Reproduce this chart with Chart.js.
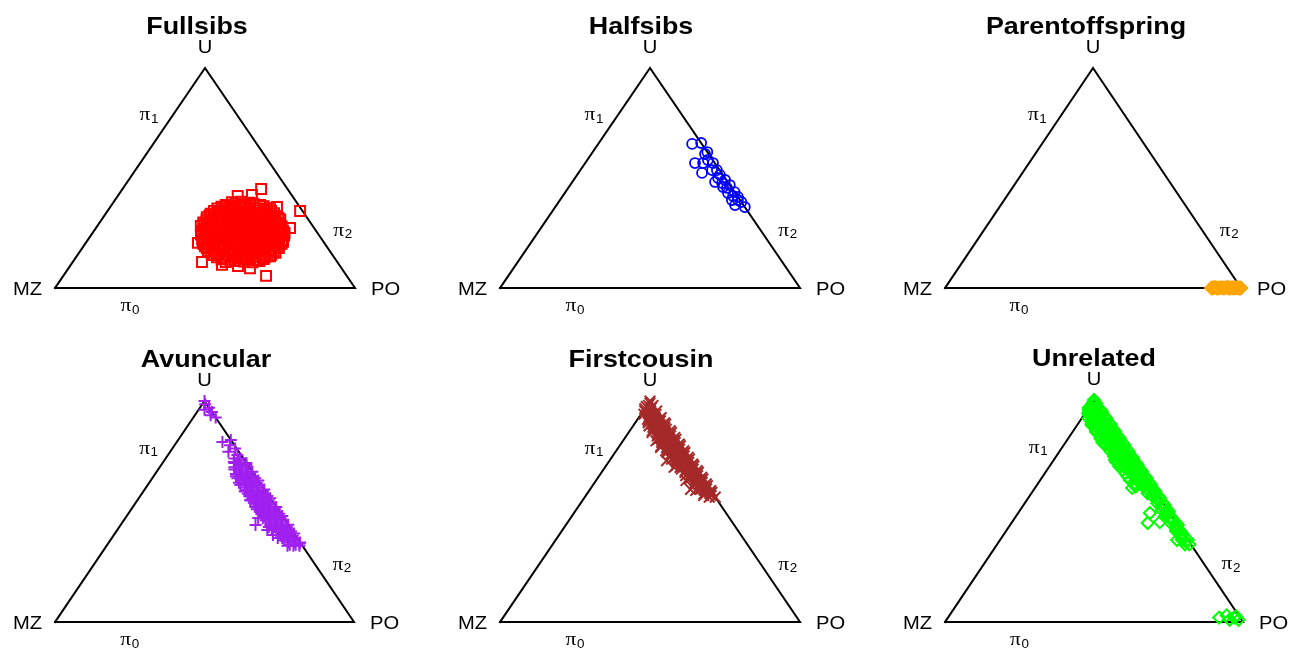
<!DOCTYPE html>
<html>
<head>
<meta charset="utf-8">
<script src="https://cdn.jsdelivr.net/npm/chart.js@4/dist/chart.umd.min.js"></script>
<style>
  html, body { margin:0; padding:0; background:#fff; }
  body { width:1291px; height:648px; overflow:hidden; position:relative; }
  canvas { position:absolute; }
</style>
</head>
<body>
<script>
// ---------- DATA (ternary compositions: [pi0, pi1]; pi2 = 1 - pi0 - pi1) ----------
const panelTitles = ['Fullsibs', 'Halfsibs', 'Parentoffspring', 'Avuncular', 'Firstcousin', 'Unrelated'];
const vertexLabels = ['MZ', 'PO', 'U'];
const vertexPi0 = [0, 0, 1];
const vertexPi1 = [0, 1, 0];
const edgeSubscripts = ['0', '1', '2'];

const fullsibs = [
  [0.118,0.51],[0.122,0.54],[0.12,0.57],[0.117,0.60],[0.123,0.62],
  [0.13,0.49],[0.128,0.52],[0.133,0.545],[0.13,0.575],[0.127,0.605],[0.132,0.63],
  [0.14,0.47],[0.137,0.495],[0.143,0.52],[0.14,0.55],[0.136,0.575],[0.142,0.60],[0.139,0.63],[0.144,0.645],
  [0.15,0.455],[0.148,0.48],[0.153,0.51],[0.15,0.535],[0.147,0.565],[0.152,0.59],[0.149,0.62],[0.151,0.645],
  [0.161,0.44],[0.157,0.465],[0.163,0.495],[0.16,0.52],[0.156,0.55],[0.162,0.575],[0.158,0.605],[0.164,0.63],[0.16,0.655],
  [0.17,0.425],[0.168,0.45],[0.173,0.48],[0.17,0.505],[0.167,0.535],[0.172,0.56],[0.169,0.59],[0.171,0.615],[0.168,0.645],
  [0.182,0.415],[0.178,0.44],[0.183,0.47],[0.177,0.495],[0.181,0.525],[0.184,0.55],[0.179,0.58],[0.18,0.605],[0.176,0.63],[0.182,0.655],
  [0.19,0.405],[0.188,0.43],[0.193,0.46],[0.19,0.485],[0.187,0.515],[0.192,0.54],[0.189,0.565],[0.191,0.595],[0.188,0.62],[0.192,0.65],
  [0.2,0.395],[0.204,0.42],[0.197,0.45],[0.201,0.475],[0.205,0.5],[0.198,0.53],[0.202,0.555],[0.196,0.585],[0.203,0.61],[0.199,0.635],[0.201,0.655],
  [0.21,0.387],[0.208,0.415],[0.213,0.44],[0.21,0.47],[0.207,0.495],[0.212,0.523],[0.209,0.55],[0.211,0.575],[0.208,0.605],[0.212,0.63],[0.21,0.655],
  [0.221,0.38],[0.217,0.405],[0.224,0.435],[0.219,0.46],[0.222,0.49],[0.216,0.515],[0.223,0.54],[0.218,0.57],[0.22,0.595],[0.225,0.62],[0.218,0.65],
  [0.23,0.385],[0.228,0.415],[0.233,0.44],[0.23,0.47],[0.227,0.495],[0.232,0.525],[0.229,0.55],[0.231,0.575],[0.228,0.605],[0.232,0.63],
  [0.243,0.365],[0.238,0.39],[0.241,0.42],[0.236,0.445],[0.244,0.475],[0.239,0.5],[0.242,0.525],[0.237,0.555],[0.245,0.58],[0.24,0.61],[0.238,0.645],
  [0.25,0.372],[0.248,0.40],[0.253,0.425],[0.25,0.455],[0.247,0.482],[0.252,0.51],[0.249,0.535],[0.251,0.563],[0.248,0.59],[0.252,0.617],[0.25,0.64],
  [0.258,0.36],[0.263,0.385],[0.257,0.415],[0.262,0.44],[0.259,0.47],[0.264,0.495],[0.256,0.525],[0.261,0.55],[0.258,0.58],[0.263,0.605],[0.26,0.63],
  [0.27,0.365],[0.268,0.392],[0.273,0.42],[0.27,0.447],[0.267,0.475],[0.272,0.502],[0.269,0.53],[0.271,0.555],[0.268,0.583],[0.272,0.61],
  [0.282,0.345],[0.277,0.37],[0.283,0.4],[0.278,0.425],[0.281,0.455],[0.284,0.48],[0.276,0.51],[0.28,0.535],[0.283,0.56],[0.279,0.59],[0.281,0.615],
  [0.29,0.352],[0.288,0.38],[0.293,0.407],[0.29,0.435],[0.287,0.462],[0.292,0.49],[0.289,0.515],[0.291,0.543],[0.288,0.57],[0.292,0.60],
  [0.298,0.345],[0.303,0.37],[0.297,0.4],[0.302,0.425],[0.299,0.455],[0.304,0.48],[0.296,0.505],[0.301,0.535],[0.303,0.56],[0.298,0.59],
  [0.31,0.35],[0.308,0.377],[0.313,0.405],[0.31,0.432],[0.307,0.46],[0.312,0.487],[0.309,0.515],[0.311,0.542],[0.308,0.57],[0.312,0.595],
  [0.322,0.345],[0.317,0.37],[0.321,0.4],[0.324,0.43],[0.318,0.455],[0.32,0.48],[0.323,0.51],[0.316,0.535],[0.321,0.56],[0.319,0.585],
  [0.33,0.35],[0.328,0.377],[0.333,0.405],[0.33,0.432],[0.327,0.46],[0.332,0.487],[0.329,0.515],[0.331,0.542],[0.328,0.57],
  [0.338,0.35],[0.343,0.375],[0.337,0.405],[0.341,0.43],[0.344,0.46],[0.339,0.485],[0.342,0.515],[0.336,0.54],[0.34,0.56],
  [0.35,0.355],[0.348,0.382],[0.353,0.41],[0.35,0.437],[0.347,0.465],[0.352,0.492],[0.349,0.52],[0.351,0.545],
  [0.362,0.36],[0.357,0.385],[0.361,0.415],[0.364,0.44],[0.358,0.47],[0.362,0.495],[0.359,0.52],[0.363,0.535],
  [0.37,0.37],[0.368,0.397],[0.373,0.425],[0.37,0.452],[0.367,0.48],[0.372,0.51],
  [0.378,0.38],[0.383,0.41],[0.379,0.44],[0.382,0.47],[0.377,0.495],
  [0.39,0.395],[0.392,0.425],[0.388,0.455],
  [0.055,0.676],[0.35,0.642],[0.45,0.462],[0.368,0.556],[0.118,0.431],[0.105,0.504],
  [0.205,0.374],[0.09,0.605],[0.273,0.647],[0.418,0.40],[0.423,0.445],[0.10,0.56]
];

const halfsibs = [
  [0.655,0.313],[0.659,0.341],[0.609,0.379],[0.618,0.382],[0.568,0.366],[0.568,0.393],[0.523,0.412],
  [0.568,0.426],[0.536,0.455],[0.514,0.476],[0.482,0.476],[0.491,0.505],[0.459,0.514],[0.468,0.532],
  [0.432,0.544],[0.40,0.573],[0.436,0.564],[0.391,0.609],[0.368,0.632],[0.582,0.402],[0.536,0.439],
  [0.50,0.477],[0.477,0.502],[0.455,0.529],[0.418,0.568],[0.40,0.593],[0.377,0.595],[0.414,0.586]
];

const parentoffspring = [
  [0,0.90],[0,0.905],[0.003,0.91],[0,0.918],[0,0.925],[0.002,0.932],[0,0.94],[0,0.946],[0.004,0.952],
  [0,0.958],[0,0.963],[0.002,0.969],[0,0.975],[0,0.98],[0.003,0.985],[0,0.99],[0,0.995],[0,1.0]
];

const avuncular = [
  [1,0],[0.985,0.01],[0.97,0.03],[0.96,0.02],[0.95,0.05],[0.935,0.053],[0.925,0.075],
  [0.814,0.153],[0.824,0.176],[0.77,0.195],[0.756,0.232],[0.80,0.185],[0.785,0.21],[0.724,0.236],
  [0.74,0.25],[0.74,0.23],[0.73,0.25],
  [0.72,0.28],[0.72,0.26],[0.72,0.24],[0.71,0.285],[0.71,0.265],
  [0.70,0.29],[0.70,0.27],[0.70,0.25],[0.69,0.295],[0.69,0.275],[0.69,0.255],
  [0.68,0.32],[0.68,0.30],[0.68,0.275],[0.67,0.31],[0.67,0.29],[0.67,0.27],
  [0.66,0.33],[0.66,0.31],[0.66,0.29],[0.66,0.275],[0.65,0.345],[0.65,0.325],[0.65,0.305],[0.65,0.285],
  [0.64,0.36],[0.64,0.34],[0.64,0.32],[0.63,0.36],[0.63,0.34],[0.63,0.32],[0.63,0.30],
  [0.62,0.37],[0.62,0.35],[0.62,0.33],[0.62,0.31],[0.61,0.375],[0.61,0.355],[0.61,0.335],
  [0.60,0.40],[0.60,0.38],[0.60,0.36],[0.60,0.34],[0.59,0.40],[0.59,0.38],[0.59,0.36],[0.59,0.34],
  [0.58,0.41],[0.58,0.39],[0.58,0.37],[0.58,0.355],[0.57,0.425],[0.57,0.405],[0.57,0.385],[0.57,0.365],
  [0.56,0.44],[0.56,0.42],[0.56,0.40],[0.56,0.38],[0.55,0.44],[0.55,0.42],[0.55,0.40],[0.55,0.38],
  [0.54,0.45],[0.54,0.43],[0.54,0.41],[0.54,0.395],[0.53,0.455],[0.53,0.435],[0.53,0.415],
  [0.52,0.48],[0.52,0.46],[0.52,0.44],[0.52,0.42],[0.51,0.48],[0.51,0.46],[0.51,0.44],[0.51,0.42],
  [0.50,0.49],[0.50,0.47],[0.50,0.45],[0.50,0.435],[0.49,0.505],[0.49,0.485],[0.49,0.465],[0.49,0.445],
  [0.48,0.52],[0.48,0.50],[0.48,0.48],[0.48,0.46],[0.47,0.52],[0.47,0.50],[0.47,0.48],[0.47,0.46],
  [0.46,0.53],[0.46,0.51],[0.46,0.49],[0.46,0.475],[0.45,0.535],[0.45,0.515],[0.45,0.495],
  [0.44,0.56],[0.44,0.54],[0.44,0.52],[0.44,0.50],[0.43,0.56],[0.43,0.54],[0.43,0.52],[0.43,0.50],
  [0.42,0.57],[0.42,0.55],[0.42,0.53],[0.42,0.515],[0.41,0.585],[0.41,0.565],[0.41,0.545],
  [0.40,0.60],[0.40,0.58],[0.40,0.56],[0.39,0.60],[0.39,0.58],[0.39,0.56],
  [0.38,0.61],[0.38,0.59],[0.38,0.57],[0.38,0.555],[0.37,0.615],[0.37,0.595],[0.37,0.58],
  [0.36,0.64],[0.36,0.62],[0.36,0.60],[0.355,0.64],[0.35,0.63],[0.35,0.61],
  [0.345,0.645],[0.345,0.625],[0.345,0.605],
  [0.439,0.451],[0.416,0.502],[0.394,0.532],[0.471,0.444],[0.552,0.377],[0.597,0.345],[0.52,0.41]
];

const firstcousin = [
  [1,0],[0.99,0.005],[0.98,0.02],[0.98,0.005],[0.97,0.02],[0.965,0],[0.975,0],
  [0.955,0.045],[0.955,0.025],[0.955,0.005],[0.94,0.05],[0.94,0.03],[0.94,0.01],
  [0.925,0.075],[0.925,0.055],[0.925,0.035],[0.917,0.073],[0.917,0.053],[0.917,0.033],
  [0.91,0.08],[0.91,0.06],[0.91,0.04],[0.902,0.098],[0.902,0.068],[0.902,0.043],
  [0.895,0.105],[0.895,0.085],[0.895,0.065],[0.887,0.098],[0.887,0.078],[0.887,0.053],
  [0.88,0.11],[0.88,0.09],[0.88,0.07],[0.872,0.118],[0.872,0.098],[0.872,0.078],
  [0.865,0.135],[0.865,0.115],[0.865,0.095],[0.865,0.075],[0.857,0.143],[0.857,0.123],[0.857,0.103],[0.857,0.078],
  [0.85,0.14],[0.85,0.12],[0.85,0.10],[0.842,0.148],[0.842,0.128],[0.842,0.103],
  [0.835,0.165],[0.835,0.145],[0.835,0.125],[0.827,0.173],[0.827,0.153],[0.827,0.133],[0.827,0.113],
  [0.82,0.17],[0.82,0.15],[0.82,0.13],[0.82,0.11],[0.812,0.178],[0.812,0.158],[0.812,0.133],
  [0.805,0.195],[0.805,0.175],[0.805,0.155],[0.797,0.203],[0.797,0.183],[0.797,0.163],[0.797,0.138],
  [0.79,0.20],[0.79,0.18],[0.79,0.16],[0.782,0.208],[0.782,0.188],[0.782,0.168],
  [0.775,0.225],[0.775,0.205],[0.775,0.185],[0.775,0.165],[0.767,0.233],[0.767,0.213],[0.767,0.193],[0.767,0.173],
  [0.76,0.23],[0.76,0.21],[0.76,0.19],[0.752,0.238],[0.752,0.218],[0.752,0.193],
  [0.745,0.255],[0.745,0.235],[0.745,0.215],[0.737,0.263],[0.737,0.243],[0.737,0.223],[0.737,0.203],
  [0.73,0.26],[0.73,0.24],[0.73,0.22],[0.722,0.268],[0.722,0.248],[0.722,0.228],
  [0.715,0.285],[0.715,0.265],[0.715,0.245],[0.707,0.293],[0.707,0.273],[0.707,0.253],[0.707,0.233],
  [0.70,0.29],[0.70,0.27],[0.70,0.25],[0.692,0.298],[0.692,0.278],[0.692,0.258],
  [0.685,0.315],[0.685,0.295],[0.685,0.275],[0.677,0.323],[0.677,0.303],[0.677,0.278],
  [0.67,0.32],[0.67,0.30],[0.662,0.328],[0.662,0.308],[0.662,0.288],
  [0.655,0.345],[0.655,0.325],[0.655,0.305],[0.647,0.353],[0.647,0.333],[0.647,0.308],
  [0.64,0.35],[0.64,0.33],[0.632,0.358],[0.632,0.338],
  [0.625,0.375],[0.625,0.355],[0.625,0.335],[0.617,0.383],[0.617,0.363],[0.617,0.338],
  [0.61,0.38],[0.61,0.36],[0.602,0.388],[0.602,0.368],
  [0.595,0.405],[0.595,0.385],[0.595,0.355],[0.587,0.413],[0.587,0.393],
  [0.58,0.41],[0.58,0.39],[0.572,0.418],[0.572,0.393],
  [0.565,0.435],[0.565,0.415],
  [0.73,0.19],[0.70,0.23],[0.64,0.30],[0.60,0.335],[0.79,0.14]
];

const unrelated = [
  [1,0],[0.992,0.004],[0.985,0.015],[0.985,0.003],[0.978,0.012],[0.965,0],[0.97,0.025],[0.97,0.005],
  [0.962,0.023],[0.962,0.003],
  [0.955,0.045],[0.955,0.025],[0.955,0.005],[0.947,0.053],[0.947,0.033],[0.947,0.013],
  [0.94,0.05],[0.94,0.03],[0.94,0.01],[0.932,0.058],[0.932,0.038],[0.932,0.018],
  [0.925,0.075],[0.925,0.055],[0.925,0.035],[0.917,0.083],[0.917,0.063],[0.917,0.043],[0.917,0.023],
  [0.91,0.08],[0.91,0.06],[0.91,0.04],[0.902,0.088],[0.902,0.068],[0.902,0.048],
  [0.895,0.105],[0.895,0.085],[0.895,0.065],[0.895,0.045],[0.887,0.113],[0.887,0.093],[0.887,0.073],[0.887,0.048],
  [0.88,0.11],[0.88,0.09],[0.88,0.07],[0.872,0.118],[0.872,0.098],[0.872,0.078],
  [0.865,0.135],[0.865,0.115],[0.865,0.095],[0.865,0.075],[0.857,0.143],[0.857,0.123],[0.857,0.103],[0.857,0.078],
  [0.85,0.14],[0.85,0.12],[0.85,0.10],[0.842,0.148],[0.842,0.128],[0.842,0.108],
  [0.835,0.165],[0.835,0.145],[0.835,0.125],[0.835,0.105],[0.827,0.173],[0.827,0.153],[0.827,0.133],[0.827,0.108],
  [0.82,0.17],[0.82,0.15],[0.82,0.13],[0.812,0.178],[0.812,0.158],[0.812,0.138],
  [0.805,0.195],[0.805,0.175],[0.805,0.155],[0.805,0.135],[0.797,0.203],[0.797,0.183],[0.797,0.163],[0.797,0.138],
  [0.79,0.20],[0.79,0.18],[0.79,0.16],[0.782,0.208],[0.782,0.188],[0.782,0.168],
  [0.775,0.225],[0.775,0.205],[0.775,0.185],[0.767,0.233],[0.767,0.213],[0.767,0.193],[0.767,0.173],
  [0.76,0.23],[0.76,0.21],[0.76,0.19],[0.752,0.238],[0.752,0.218],[0.752,0.198],
  [0.745,0.255],[0.745,0.235],[0.745,0.215],[0.745,0.195],[0.737,0.263],[0.737,0.243],[0.737,0.223],
  [0.73,0.26],[0.73,0.24],[0.73,0.22],[0.73,0.205],[0.722,0.268],[0.722,0.248],
  [0.715,0.285],[0.715,0.265],[0.715,0.245],[0.715,0.225],[0.707,0.293],[0.707,0.273],[0.707,0.253],
  [0.70,0.29],[0.70,0.27],[0.70,0.25],[0.70,0.235],[0.692,0.298],[0.692,0.278],
  [0.685,0.315],[0.685,0.295],[0.685,0.275],[0.685,0.255],[0.677,0.323],[0.677,0.303],[0.677,0.283],
  [0.67,0.32],[0.67,0.30],[0.67,0.27],[0.662,0.328],[0.662,0.308],
  [0.655,0.345],[0.655,0.325],[0.655,0.305],[0.655,0.285],[0.647,0.353],[0.647,0.333],
  [0.64,0.35],[0.64,0.33],[0.64,0.30],[0.632,0.358],[0.632,0.338],
  [0.625,0.375],[0.625,0.355],[0.625,0.325],[0.617,0.383],[0.617,0.363],
  [0.61,0.38],[0.61,0.36],[0.61,0.335],[0.602,0.388],
  [0.595,0.405],[0.595,0.385],[0.587,0.413],[0.587,0.393],
  [0.58,0.41],[0.58,0.39],[0.572,0.418],
  [0.565,0.435],[0.565,0.415],[0.557,0.443],[0.55,0.44],[0.542,0.448],[0.535,0.465],[0.535,0.445],[0.527,0.473],[0.52,0.47],
  [0.512,0.478],[0.505,0.495],[0.505,0.475],[0.497,0.503],[0.49,0.50],[0.482,0.503],[0.475,0.52],[0.475,0.50],[0.467,0.528],[0.46,0.53],
  [0.452,0.538],[0.445,0.555],[0.445,0.535],[0.437,0.563],[0.43,0.56],[0.42,0.565],[0.41,0.585],[0.41,0.57],[0.40,0.595],[0.39,0.60],
  [0.38,0.605],[0.37,0.63],[0.37,0.61],[0.36,0.63],[0.35,0.645],[0.35,0.63],
  [0.81,0.123],[0.604,0.326],[0.491,0.442],[0.446,0.457],[0.45,0.496],[0.369,0.594],[0.72,0.215],
  [0.02,0.91],[0.03,0.93],[0.01,0.95],[0.02,0.96],[0.025,0.965],[0.01,0.98]
];

const panelData = [fullsibs, halfsibs, parentoffspring, avuncular, firstcousin, unrelated];

// ---------- LAYOUT & STYLE ----------
const panelGeom = [
  {mz:55,  po:355,  base:288, top:68,  tx:197},
  {mz:500, po:800,  base:288, top:68,  tx:641},
  {mz:945, po:1241, base:288, top:68,  tx:1086},
  {mz:55,  po:354,  base:622, top:401, tx:206},
  {mz:500, po:800,  base:622, top:401, tx:641},
  {mz:945, po:1243, base:622, top:400, tx:1094}
];
const panelStyle = [
  {color:'#FF0000', shape:'rect',     r:7,   lw:2,   fill:false},
  {color:'#0000FF', shape:'circle',   r:5,   lw:1.8, fill:false},
  {color:'#FFA500', shape:'rectRot',  r:6.8, lw:1.2, fill:true},
  {color:'#A020F0', shape:'cross',    r:6,   lw:2,   fill:false},
  {color:'#A52A2A', shape:'crossRot', r:7.5, lw:2,   fill:false},
  {color:'#00FF00', shape:'rectRot',  r:6,   lw:2,   fill:false}
];
const CW = 440, CH = 320, PADL = 55, PADT = 68;
const SX = 1.12; // horizontal text stretch of the original picture
const SANS = '"Liberation Sans", Arial, Helvetica, sans-serif';
const SERIF = '"Liberation Serif", "Times New Roman", serif';

function toXY(p0, p1) { return {x: p1 + p0 / 2, y: p0}; }

function drawStretched(ctx, text, x, y, font, align) {
  ctx.save();
  ctx.translate(x, y);
  ctx.scale(SX, 1);
  ctx.font = font;
  ctx.textAlign = align;
  ctx.textBaseline = 'alphabetic';
  ctx.fillText(text, 0, 0);
  ctx.restore();
}
function drawPi(ctx, sub, cx, cy) {
  ctx.save();
  const f1 = '19px ' + SERIF, f2 = '12px ' + SANS;
  ctx.font = f1; const w1 = ctx.measureText('\u03C0').width;
  ctx.font = f2; const w2 = ctx.measureText(sub).width;
  const total = (w1 + w2 + 0.5) * SX;
  const x0 = cx - total / 2;
  drawStretched(ctx, '\u03C0', x0, cy + 4, f1, 'left');
  drawStretched(ctx, sub, x0 + (w1 + 0.5) * SX, cy + 6.5, f2, 'left');
  ctx.restore();
}

const ternaryLabels = {
  id: 'ternaryLabels',
  afterDraw(chart, args, opts) {
    const ctx = chart.ctx, xs = chart.scales.x, ys = chart.scales.y;
    const P = (p0, p1) => { const q = toXY(p0, p1); return [xs.getPixelForValue(q.x), ys.getPixelForValue(q.y)]; };
    const V = vertexLabels.map((_, i) => P(vertexPi0[i], vertexPi1[i]));
    const [mz, po, u] = V;
    ctx.save();
    ctx.fillStyle = '#000';
    drawStretched(ctx, opts.title, opts.titleX, u[1] - 34, 'bold 24px ' + SANS, 'center');
    const vf = '18px ' + SANS;
    drawStretched(ctx, vertexLabels[0], mz[0] - 13, mz[1] + 7, vf, 'right');
    drawStretched(ctx, vertexLabels[1], po[0] + 16, po[1] + 7, vf, 'left');
    drawStretched(ctx, vertexLabels[2], u[0], u[1] - 15, vf, 'center');
    drawPi(ctx, edgeSubscripts[0], mz[0] + (po[0] - mz[0]) * 0.25, mz[1] + 19);
    const t1 = 0.78;
    drawPi(ctx, edgeSubscripts[1], mz[0] + (u[0] - mz[0]) * t1 - 23, mz[1] + (u[1] - mz[1]) * t1);
    const t2 = 0.745;
    drawPi(ctx, edgeSubscripts[2], u[0] + (po[0] - u[0]) * t2 + 26, u[1] + (po[1] - u[1]) * t2);
    ctx.restore();
  }
};

panelTitles.forEach((title, i) => {
  const g = panelGeom[i], s = panelStyle[i];
  const cv = document.createElement('canvas');
  cv.width = CW; cv.height = CH;
  const left = g.mz - PADL, top = g.top - PADT;
  cv.style.left = left + 'px'; cv.style.top = top + 'px';
  cv.style.width = CW + 'px'; cv.style.height = CH + 'px';
  document.body.appendChild(cv);
  const pts = panelData[i].map(d => toXY(d[0], d[1]));
  const tri = [0, 1, 2, 0].map(k => toXY(vertexPi0[k], vertexPi1[k]));
  new Chart(cv, {
    type: 'scatter',
    data: {
      datasets: [
        {
          data: pts,
          pointStyle: s.shape,
          pointRadius: s.r,
          pointBorderWidth: s.lw,
          borderWidth: s.lw,
          pointBorderColor: s.color,
          borderColor: s.color,
          pointBackgroundColor: s.fill ? s.color : 'rgba(0,0,0,0)',
          backgroundColor: s.fill ? s.color : 'rgba(0,0,0,0)',
          clip: false,
          order: 0
        },
        {
          data: tri,
          showLine: true,
          borderColor: '#000',
          borderWidth: 2,
          pointRadius: 0,
          borderJoinStyle: 'miter',
          borderCapStyle: 'square',
          tension: 0,
          fill: false,
          clip: false,
          order: 1
        }
      ]
    },
    options: {
      responsive: false,
      animation: false,
      devicePixelRatio: 1,
      events: [],
      layout: { padding: { left: PADL, top: PADT, right: CW - PADL - (g.po - g.mz), bottom: CH - PADT - (g.base - g.top) } },
      scales: {
        x: { type: 'linear', min: 0, max: 1, display: false },
        y: { type: 'linear', min: 0, max: 1, display: false }
      },
      plugins: {
        legend: { display: false },
        tooltip: { enabled: false },
        title: { display: false },
        ternaryLabels: { title: title, titleX: g.tx - left }
      }
    },
    plugins: [ternaryLabels]
  });
});
</script>
</body>
</html>
